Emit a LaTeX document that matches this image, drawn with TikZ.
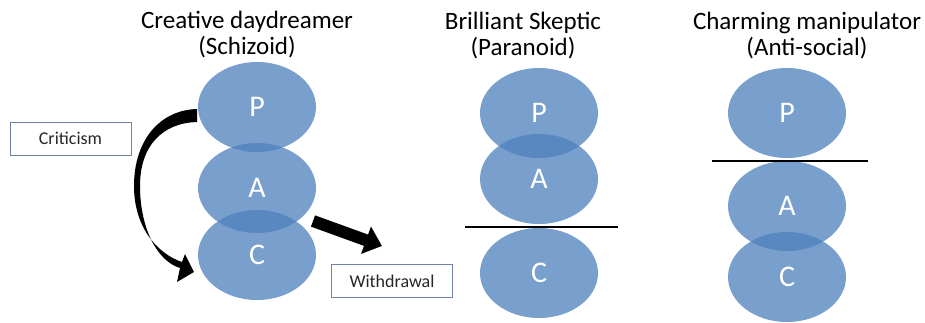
\documentclass[tikz,border=0pt]{standalone}
\usepackage{fontspec}
\setmainfont{Carlito}
\usetikzlibrary{shapes.geometric,arrows.meta}
\definecolor{egoblue}{RGB}{79, 129, 189}
\definecolor{boxframe}{RGB}{110, 130, 170}

\begin{document}
\begin{tikzpicture}[x=1pt, y=-1pt,
    egostate/.style={ellipse, minimum width=118, minimum height=90, inner sep=0,
        fill=egoblue, fill opacity=0.76, text opacity=1, text=white,
        font=\fontsize{30}{32}\selectfont},
    title/.style={anchor=north, align=center, inner sep=0,
        font=\fontsize{25}{26}\selectfont},
    labelbox/.style={draw=boxframe, line width=0.8, minimum width=121, minimum height=33,
        inner sep=0, text=black!85, font=\fontsize{18}{20}\selectfont}]
    \useasboundingbox (0,0) rectangle (925,322);

    % Titoli
    \node[title] (t1) at (247,11) {Creative daydreamer\\(Schizoid)};
    \node[title] (t2) at (523,12) {Brilliant Skeptic\\(Paranoid)};
    \node[title] (t3) at (807,12) {Charming manipulator\\(Anti-social)};

    % Schizoid
    \node[egostate] (P1) at (257,107) {P};
    \node[egostate] (A1) at (257,188) {A};
    \node[egostate] (C1) at (257,255) {C};

    % Paranoid
    \node[egostate] (P2) at (539,113) {P};
    \node[egostate] (A2) at (539,179) {A};
    \node[egostate] (C2) at (539,273) {C};

    % Anti-social
    \node[egostate] (P3) at (787,113) {P};
    \node[egostate] (A3) at (787,206) {A};
    \node[egostate] (C3) at (787,277) {C};

    % Riquadri
    \node[labelbox] (crit) at (70.5,138.5) {Criticism};
    \node[labelbox] (wd) at (392,281) {Withdrawal};

    % Linee di separazione
    \draw[line width=2] (465,227) -- (618,227);
    \draw[line width=2] (712,161) -- (868,161);

    % Frecce
    \fill (197,109) .. controls (160,110) and (134,140) .. (134,186)
        .. controls (134,228) and (158,254) .. (182,262)
        -- (185,254) -- (194,272) -- (177,282) -- (180,268)
        .. controls (157,261) and (140,228) .. (140,186)
        .. controls (140,146) and (162,123) .. (197,122) -- cycle;
    \coordinate (wdstart) at (313,221);
    \coordinate (wdtip) at (382,246);
    \draw[line width=12, -{Triangle[length=17pt, width=28pt]}] (wdstart) -- (wdtip);
\end{tikzpicture}
\end{document}
